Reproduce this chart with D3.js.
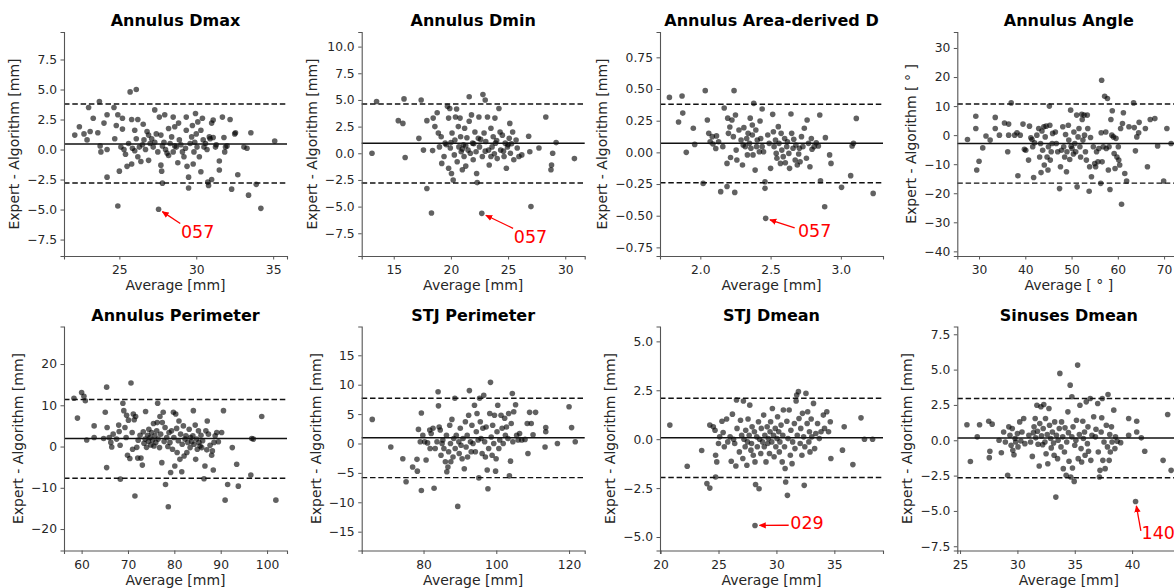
<!DOCTYPE html>
<html>
<head>
<meta charset="utf-8">
<script src="https://cdn.jsdelivr.net/npm/d3@7"></script>
<style>
  body { margin: 0; background: #fff; }
  svg { display: block; font-family: "DejaVu Sans", sans-serif; }
</style>
</head>
<body>
<div id="chart"></div>
<script>
////////////////////////////////////////////////////////
//////////////////// Data //////////////////////////////
////////////////////////////////////////////////////////

// [average, expert - algorithm] per case
const dmaxPoints = [[22.1,1.2],[22.4,1.9],[22.7,1.3],[22.9,0.8],[23.1,1.5],[23.0,3.5],[23.3,2.6],[23.7,4.0],[23.6,1.4],[23.75,0.3],[23.8,-0.2],[24.0,2.2],[24.2,2.9],[24.2,0.0],[24.2,-2.3],[24.65,3.5],[24.7,0.9],[24.8,2.0],[24.9,2.9],[25.0,-1.8],[24.9,-4.7],[25.1,0.2],[25.2,2.6],[25.2,1.7],[25.3,0.0],[25.4,-0.4],[25.5,-1.4],[25.7,4.8],[25.8,-1.2],[25.8,2.5],[25.85,0.1],[26.1,5.0],[26.0,1.6],[26.1,0.9],[26.2,2.5],[26.2,-0.6],[26.3,0.2],[26.4,-1.0],[26.55,2.1],[26.6,0.8],[26.7,0.0],[26.8,1.5],[26.9,-0.9],[27.0,0.5],[27.1,0.9],[27.2,0.2],[27.3,3.3],[27.4,1.3],[27.5,-0.2],[27.55,-4.97],[27.6,2.7],[27.7,1.2],[27.7,-1.3],[27.75,-1.8],[27.8,-2.8],[27.9,0.6],[27.95,2.9],[28.1,-0.3],[28.2,1.75],[28.3,0.5],[28.4,1.05],[28.5,2.7],[28.5,-0.2],[28.6,1.9],[28.7,0.2],[28.8,-1.1],[28.85,2.2],[28.9,0.8],[29.0,0.4],[29.1,-0.2],[29.2,-0.6],[29.35,2.7],[29.35,1.6],[29.4,-1.4],[29.5,-3.2],[29.5,-2.3],[29.6,0.5],[29.7,1.05],[29.75,2.0],[29.8,-1.2],[29.85,-0.2],[29.95,3.0],[30.0,1.3],[30.05,0.2],[30.1,2.3],[30.2,-0.6],[30.3,1.6],[30.3,-1.85],[30.4,2.6],[30.45,0.8],[30.5,0.2],[30.7,0.0],[30.75,-2.7],[30.8,-3.0],[30.85,1.05],[31.0,-2.5],[31.0,2.2],[31.1,1.0],[31.1,2.45],[31.25,0.2],[31.5,-0.95],[31.5,-1.7],[31.7,2.7],[31.8,1.0],[31.85,-0.2],[31.9,0.2],[32.2,2.5],[32.3,-3.3],[32.5,1.3],[32.55,1.4],[32.7,-2.1],[33.1,0.2],[33.3,0.1],[33.4,-3.8],[33.55,1.4],[33.9,-2.9],[34.2,-4.9],[35.1,0.7],[26.5,0.4],[27.3,0.6],[28.0,0.0],[28.6,0.3],[29.3,0.1],[30.6,0.5],[31.3,0.4],[26.9,1.2],[28.2,-0.5],[29.9,0.6],[27.8,0.3],[30.9,0.9],[25.6,0.5],[26.0,-0.1],[32.0,0.3]];

const dminPoints = [[13.1,0],[13.5,4.85],[15.4,3.06],[15.8,2.8],[15.9,5.1],[16.0,-0.4],[17.2,1.4],[17.4,5.0],[17.6,0.3],[17.9,-3.3],[17.9,3.06],[18.3,-5.6],[18.4,0.25],[18.45,3.3],[18.6,2.5],[18.8,3.8],[18.9,1.9],[19.0,0.6],[19.15,1.55],[19.2,-0.95],[19.4,-0.3],[19.5,0.95],[19.7,4.4],[19.8,3.3],[19.8,-1.4],[19.9,4.2],[19.95,0.5],[20.05,-1.9],[20.1,1.9],[20.2,-2.5],[20.3,-0.15],[20.35,1.25],[20.4,3.4],[20.5,4.15],[20.55,-0.8],[20.65,2.5],[20.7,0.6],[20.8,3.3],[20.85,1.55],[20.9,0.15],[21.0,-1.55],[21.1,0.8],[21.15,-0.3],[21.2,2.35],[21.3,-1.2],[21.4,1.45],[21.5,0.3],[21.6,5.3],[21.6,3.0],[21.7,0],[21.8,3.6],[21.9,0.95],[21.95,-0.6],[22.1,2.0],[22.2,0.15],[22.25,-1.9],[22.3,-2.75],[22.4,1.4],[22.45,3.4],[22.5,0.6],[22.7,-5.63],[22.75,-0.3],[22.8,5.5],[22.9,1.9],[23.0,5.0],[23.05,1.1],[23.2,3.4],[23.3,0.3],[23.35,-1.1],[23.5,2.35],[23.6,0.6],[23.7,1.55],[23.8,-0.05],[23.85,3.3],[23.9,0.95],[24.05,-0.5],[24.2,4.2],[24.3,2.0],[24.35,0.3],[24.5,1.7],[24.65,-0.3],[24.75,0.95],[24.85,-1.4],[24.95,0.6],[25.1,1.4],[25.15,2.8],[25.2,0],[25.4,2.0],[25.5,-0.6],[25.7,1.25],[25.8,0.5],[25.95,-0.3],[26.2,-0.15],[26.8,1.6],[26.9,0.15],[27.0,-5.0],[27.7,0.5],[28.3,3.4],[28.75,-1.55],[28.8,-1.1],[28.9,0],[29.2,1.0],[30.8,-0.5],[21.0,0.4],[22.0,0.9],[23.0,0.2],[24.0,1.2],[25.0,0.8],[20.0,1.0],[22.6,1.3],[21.3,0.7],[23.5,-0.3],[24.6,0.2],[25.3,0.9],[19.6,0.8]];

const areaDPoints = [[1.78,0.434],[1.845,0.24],[1.87,0.445],[1.875,0.31],[1.90,0.0],[1.95,0.19],[1.96,0.063],[2.02,-0.245],[2.035,0.487],[2.05,0.255],[2.06,0.15],[2.07,0.084],[2.085,0.124],[2.09,0.066],[2.11,0.03],[2.115,0.13],[2.13,0.084],[2.145,-0.31],[2.16,0.045],[2.17,0.35],[2.19,-0.27],[2.19,-0.087],[2.195,0.27],[2.2,0.15],[2.21,0.2],[2.215,-0.04],[2.225,0.255],[2.235,0.124],[2.24,0.487],[2.245,-0.316],[2.25,0.295],[2.255,0.018],[2.26,-0.06],[2.275,0.176],[2.29,0.097],[2.3,-0.1],[2.305,0.058],[2.31,0.195],[2.32,0.045],[2.33,0.11],[2.335,-0.02],[2.34,0.15],[2.35,0.071],[2.355,0.27],[2.36,0.032],[2.37,0.216],[2.37,0.137],[2.375,-0.02],[2.38,0.387],[2.39,-0.14],[2.395,0.176],[2.4,0.045],[2.405,0.097],[2.42,0.005],[2.425,0.247],[2.43,0.11],[2.44,0.342],[2.44,0.045],[2.45,0.005],[2.46,-0.232],[2.46,-0.284],[2.465,-0.521],[2.48,0.137],[2.49,0.071],[2.5,-0.126],[2.515,0.3],[2.52,0.163],[2.525,0.045],[2.535,0.097],[2.54,-0.008],[2.545,-0.047],[2.555,0.203],[2.56,0.071],[2.57,-0.087],[2.575,0.15],[2.58,0.018],[2.59,-0.034],[2.6,0.11],[2.605,-0.082],[2.615,0.045],[2.62,0.084],[2.63,-0.008],[2.635,-0.126],[2.645,0.303],[2.65,0.15],[2.66,0.032],[2.665,0.103],[2.675,-0.06],[2.68,0.058],[2.69,-0.1],[2.7,-0.013],[2.705,0.032],[2.71,-0.074],[2.72,0.124],[2.73,0.045],[2.74,0.19],[2.755,-0.047],[2.76,0.255],[2.77,0.071],[2.78,-0.113],[2.79,0.11],[2.795,0.024],[2.81,0.045],[2.825,0.076],[2.84,0.05],[2.85,0.295],[2.855,-0.224],[2.885,-0.429],[2.89,0.116],[2.92,-0.02],[2.93,-0.087],[3.005,-0.276],[3.07,-0.184],[3.08,0.05],[3.09,0.071],[3.11,0.268],[3.23,-0.324]];

const anglePoints = [[27.5,-1.5],[29.3,6.5],[29.3,2.3],[29.5,-12.0],[30.0,-9.0],[30.8,-4.4],[31.5,-0.3],[32.4,-1.7],[33.5,6.1],[33.5,2.3],[34.4,0],[35.5,4.2],[36.2,-5.7],[36.4,3.8],[36.4,0],[36.95,11.1],[37.7,0],[38.2,0.8],[38.4,-14.0],[38.9,0],[39.5,3.8],[39.8,-4.9],[40.1,-5.2],[40.7,-8.6],[40.9,3.1],[41.2,-0.9],[41.45,-1.5],[41.6,-4.0],[41.8,-14.6],[42.0,-2.6],[42.5,0],[42.9,2.3],[43.1,-7.5],[43.3,-2.9],[43.4,-12.9],[43.6,1.4],[43.75,-5.2],[44.0,2.9],[44.1,-10.3],[44.3,-0.6],[44.5,3.1],[44.7,-7.5],[44.9,-12.0],[45.0,-4.0],[45.2,10.0],[45.3,3.4],[45.4,-8.6],[45.6,-5.7],[45.8,-2.9],[45.9,0.6],[46.5,1.1],[46.7,-2.9],[47.0,-5.7],[47.4,-18.4],[47.6,-10.9],[47.8,-5.2],[48.1,2.9],[48.3,-4.0],[48.5,-7.5],[48.7,0.2],[48.9,-12.6],[49.0,-5.7],[49.3,3.4],[49.4,-1.7],[49.6,-8.4],[49.8,8.6],[49.9,-3.8],[50.1,-4.6],[50.4,-6.5],[50.5,1.1],[50.7,-2.9],[50.9,-5.7],[51.1,6.9],[51.2,-17.8],[51.4,-0.6],[51.6,2.3],[51.8,-4.0],[51.95,-7.5],[52.2,7.2],[52.3,5.4],[52.45,-1.7],[52.7,6.9],[52.8,0],[53.0,-5.7],[53.2,-8.6],[53.4,6.9],[53.5,2.3],[53.8,-19.3],[53.9,-10.9],[54.1,-0.8],[54.3,-14.3],[54.7,-4.0],[55.0,-9.8],[55.2,-10.9],[55.4,-5.7],[55.7,-9.2],[55.9,-4.6],[56.3,-16.6],[56.4,0.8],[56.5,18.9],[56.6,-9.2],[56.85,-4.0],[57.15,13.4],[57.4,1.1],[57.5,-4.6],[57.75,12.6],[57.95,-12.0],[58.1,-4.0],[58.3,-18.7],[58.5,5.4],[58.7,0],[58.8,8.4],[59.05,-0.6],[59.2,-6.3],[59.4,-11.5],[59.6,-1.1],[59.8,-7.5],[60.1,-4.0],[60.2,-8.6],[60.4,-10.3],[60.6,2.3],[60.8,-23.8],[61.0,4.0],[61.2,7.7],[61.5,-13.2],[61.9,-15.8],[62.4,2.9],[63.4,11.1],[63.55,2.6],[63.8,-5.4],[64.1,-0.6],[64.5,0.8],[64.6,4.4],[65.95,2.3],[66.4,-10.9],[67.0,5.4],[68.0,5.7],[68.6,-3.7],[69.9,-15.8],[70.6,2.3],[71.5,-2.9]];

const annPerimPoints = [[58.35,11.7],[59.1,6.9],[60.0,13.1],[60.5,12.2],[60.8,11.1],[61.1,1.6],[62.7,5.0],[62.7,2.2],[64.75,1.95],[65.1,8.3],[65.4,14.4],[65.4,-5.1],[65.5,4.6],[65.95,2.2],[66.3,1.0],[66.5,-0.1],[66.8,3.0],[67.55,1.8],[68.0,5.2],[68.1,3.65],[68.35,-7.9],[68.3,0.3],[68.9,10.5],[69.1,8.7],[69.35,4.6],[69.6,2.2],[69.7,7.6],[69.9,-2.1],[70.1,6.4],[70.4,-2.9],[70.65,15.4],[70.9,3.4],[71.0,-0.65],[71.15,7.9],[71.35,6.5],[71.5,-12.0],[71.65,7.3],[71.9,-0.2],[72.1,-2.8],[72.2,1.55],[72.6,2.75],[72.8,-2.8],[73.1,-4.5],[73.3,3.6],[73.45,0.8],[73.7,1.8],[73.8,8.5],[74.0,-0.2],[74.25,2.75],[74.4,1.2],[74.5,4.2],[74.75,2.2],[74.95,0.4],[75.1,3.4],[75.3,1.6],[75.5,5.6],[75.6,0.15],[75.8,2.6],[76.0,1.0],[76.2,3.8],[76.3,5.8],[76.4,10.5],[76.5,1.8],[76.8,-0.25],[76.9,7.3],[77.05,3.0],[77.3,-3.9],[77.4,5.8],[77.6,8.3],[77.8,1.2],[78.0,4.6],[78.1,-9.2],[78.35,2.2],[78.6,0],[78.7,-14.6],[78.85,3.4],[79.05,1.0],[79.2,-6.3],[79.4,3.8],[79.6,-0.65],[79.8,8.3],[79.9,2.2],[80.1,-4.7],[80.3,7.9],[80.5,4.4],[80.6,-1.45],[80.85,1.4],[81.0,6.2],[81.2,-3.1],[81.35,3.0],[81.6,-6.1],[81.7,0.55],[81.95,5.0],[82.1,-2.3],[82.3,1.8],[82.5,2.6],[82.7,-1.45],[82.9,1.0],[83.2,4.2],[83.4,-0.25],[83.5,2.2],[83.75,1.15],[84.0,2.6],[84.1,8.7],[84.25,0.55],[84.5,5.2],[84.6,-3.1],[84.8,1.8],[84.95,-0.65],[85.2,3.8],[85.3,1.0],[85.55,0.15],[85.75,2.75],[85.9,-0.25],[86.1,1.4],[86.4,-7.8],[86.6,-4.7],[86.8,3.8],[87.0,-0.8],[87.1,6.2],[87.35,3.0],[87.7,0.3],[88.05,-2.1],[88.2,-1.05],[88.4,-5.7],[88.55,1.0],[88.8,2.6],[89.15,3.4],[89.5,1.15],[90.2,3.4],[90.6,8.7],[90.95,-13.0],[91.5,-9.2],[92.5,-0.25],[93.45,-4.3],[93.8,-9.6],[96.5,-6.9],[96.7,1.95],[97.05,1.8],[98.85,7.3],[101.9,-13.0]];

const stjPerimPoints = [[65.9,4.1],[71.0,-0.6],[74.3,-2.6],[75.2,-6.5],[77.0,-4.0],[78.2,-2.7],[78.3,-4.7],[78.6,2.4],[79.1,0.3],[79.4,5.2],[79.4,-8.0],[79.8,1.4],[80.3,0.3],[80.7,-2.8],[81.1,0.1],[81.7,2.3],[81.8,-0.85],[82.1,1.7],[82.6,2.6],[82.9,-7.6],[83.2,-0.85],[83.7,0.3],[84.0,8.8],[84.1,6.4],[84.3,2.8],[84.6,2.3],[84.8,-2.0],[85.1,0],[85.3,0.6],[85.6,-0.85],[86.0,-3.1],[86.3,1.4],[86.4,-4.8],[86.7,-4.0],[86.9,-1.4],[87.2,3.1],[87.4,0],[87.5,-3.1],[87.8,4.1],[88.1,-2.3],[88.3,0.85],[88.6,7.7],[88.7,-0.85],[89.0,1.4],[89.4,-10.7],[89.7,0.3],[89.8,-1.7],[90.1,2.6],[90.3,-0.3],[90.6,-2.6],[90.85,0.85],[91.2,-4.3],[91.5,3.7],[91.7,-0.6],[92.0,1.4],[92.1,-2.3],[92.4,4.8],[92.6,9.0],[92.9,0.3],[93.1,-1.4],[93.3,3.1],[93.6,0],[94.0,6.5],[94.25,-1.4],[94.5,2.0],[94.7,5.1],[95.0,0.6],[95.2,-5.85],[95.4,7.7],[95.6,3.7],[95.8,0.85],[96.1,-1.7],[96.3,2.6],[96.55,8.2],[96.8,0.3],[97.0,-2.3],[97.2,2.8],[97.5,-4.5],[97.7,-7.7],[97.9,-0.85],[98.2,5.1],[98.4,10.4],[98.6,1.1],[98.85,-2.0],[99.0,3.1],[99.3,0],[99.5,4.8],[99.8,-4.7],[99.95,-2.6],[100.2,2.0],[100.4,6.5],[100.7,-0.85],[100.95,0.6],[101.3,4.8],[101.6,2.6],[101.9,0],[102.3,4.3],[102.5,1.4],[102.8,2.8],[103.2,0.85],[103.4,5.1],[103.6,-5.5],[103.9,-3.0],[104.1,3.4],[104.4,8.5],[104.55,0.3],[104.8,5.4],[105.3,6.6],[105.6,1.4],[106.0,0.6],[106.4,1.7],[107.0,0.6],[107.9,0.7],[108.5,3.4],[108.7,-1.7],[109.15,5.3],[109.6,3.4],[110.1,1.5],[110.8,5.3],[113.6,2.7],[113.6,2.0],[113.4,-0.6],[116.8,0],[120.0,6.25],[120.7,2.7],[121.7,0.3]];

const stjDmeanPoints = [[20.8,0.72],[22.3,-1.38],[23.55,-0.58],[24.0,-2.27],[24.25,-2.5],[24.25,0.72],[24.55,0.63],[24.7,0.46],[24.75,-0.82],[24.85,-1.16],[24.75,-1.93],[25.0,-0.22],[25.1,0.12],[25.3,0.92],[25.4,0.34],[25.5,-0.39],[25.7,1.03],[25.8,-0.14],[26.0,0.12],[26.1,-1.13],[26.2,1.28],[26.3,0],[26.4,-0.22],[26.5,-1.37],[26.55,2.0],[26.6,0.55],[26.8,-0.65],[26.9,0.97],[27.0,0.2],[27.1,-0.99],[27.15,1.95],[27.2,0],[27.3,-0.39],[27.35,0.46],[27.45,-1.33],[27.5,-0.14],[27.55,1.03],[27.65,0.2],[27.7,1.74],[27.8,-0.56],[27.85,-0.22],[27.9,0.63],[28.0,-0.82],[28.1,0.38],[28.15,-1.16],[28.2,-2.32],[28.15,-4.41],[28.3,0.12],[28.35,-0.39],[28.45,0.89],[28.5,-2.53],[28.55,0],[28.65,-0.73],[28.7,0.55],[28.8,-0.14],[28.9,1.23],[28.95,-0.39],[29.0,0.2],[29.1,-1.16],[29.2,0.63],[29.25,-0.22],[29.3,0.03],[29.4,-0.73],[29.45,0.38],[29.5,0.89],[29.6,-0.14],[29.65,1.57],[29.75,0.2],[29.8,-0.9],[29.9,0.55],[29.95,-0.39],[30.05,0.03],[30.1,1.15],[30.2,0.38],[30.25,-0.65],[30.3,-0.14],[30.4,0.72],[30.5,-1.16],[30.55,0.2],[30.6,1.49],[30.7,-0.39],[30.75,-1.5],[30.8,-2.19],[30.9,0.92],[30.95,-2.87],[31.0,0.03],[31.1,1.49],[31.2,-0.82],[31.25,0.46],[31.35,-1.25],[31.4,-0.14],[31.55,0.8],[31.6,-0.48],[31.7,1.95],[31.75,2.26],[31.8,0.2],[31.9,2.43],[31.95,1.06],[32.05,-0.22],[32.1,0.55],[32.2,-0.82],[32.25,1.32],[32.35,0.12],[32.4,-2.36],[32.45,-0.39],[32.55,2.34],[32.65,0.8],[32.7,1.4],[32.8,-0.14],[32.85,0.38],[32.9,-0.65],[33.0,1.03],[33.05,0.12],[33.2,1.83],[33.3,-0.48],[33.4,0.29],[33.55,0.8],[33.7,0.03],[33.85,0.38],[34.05,1.23],[34.15,0.55],[34.35,1.4],[34.5,0.38],[34.65,0.89],[34.7,-0.99],[35.7,-0.56],[35.85,0.63],[36.6,-1.3],[37.3,1.09],[37.6,0],[38.3,0]];

const sinusesPoints = [[25.6,1.1],[25.9,-1.5],[26.5,0.24],[26.7,1.1],[27.5,1.35],[27.55,-1.23],[27.6,-0.78],[27.8,1.14],[28.4,0],[28.6,-0.88],[28.8,0.59],[28.95,-0.12],[29.15,-2.48],[29.25,0.95],[29.35,0.35],[29.45,-0.35],[29.55,0.83],[29.6,-0.71],[29.7,-1.02],[29.8,0.12],[29.85,-0.12],[30.0,0.47],[30.05,-0.47],[30.2,1.3],[30.3,-0.05],[30.4,0.59],[30.55,1.54],[30.65,-0.24],[31.0,0.35],[31.15,-0.12],[31.3,-1.14],[31.4,0.54],[31.45,0.95],[31.55,1.54],[31.6,0.17],[31.7,2.48],[31.75,0.64],[31.8,-0.28],[31.9,-1.82],[31.95,1.18],[32.05,2.37],[32.1,0.31],[32.2,-0.31],[32.25,0.83],[32.3,2.53],[32.4,-0.12],[32.45,1.54],[32.5,-0.95],[32.6,0.4],[32.65,-1.66],[32.75,2.25],[32.8,1.06],[32.9,0.12],[32.95,-0.54],[33.05,0.59],[33.15,-0.19],[33.2,-1.06],[33.25,1.3],[33.35,-4.02],[33.4,0.35],[33.5,-1.3],[33.55,0],[33.65,0.83],[33.7,4.73],[33.8,-0.47],[33.85,1.3],[33.95,0.24],[34.0,-2.01],[34.1,-0.83],[34.15,0.88],[34.25,-2.48],[34.3,-0.12],[34.4,2.01],[34.45,0.54],[34.5,-1.49],[34.6,3.9],[34.65,-2.6],[34.75,0.24],[34.75,3.08],[34.8,-1.96],[34.85,0.95],[34.95,-2.91],[35.0,-0.35],[35.1,0],[35.15,1.42],[35.25,5.32],[35.3,-1.3],[35.4,0.4],[35.45,2.48],[35.55,-0.59],[35.6,-1.54],[35.7,1.35],[35.75,0.12],[35.85,0.59],[35.9,-1.06],[36.0,2.72],[36.1,-0.24],[36.15,0.95],[36.2,-0.78],[36.35,2.96],[36.4,-1.42],[36.5,0.35],[36.65,1.66],[36.8,0.24],[36.85,0.78],[37.0,2.6],[37.05,-0.83],[37.15,-2.6],[37.2,-2.13],[37.3,0.59],[37.35,1.59],[37.4,2.96],[37.45,-1.42],[37.55,-0.12],[37.65,-2.01],[37.75,1.06],[37.85,-0.47],[37.9,3.24],[38.0,-1.42],[38.05,0.4],[38.1,-0.83],[38.2,0.95],[38.25,-0.12],[38.4,2.13],[38.5,-0.59],[38.55,0.24],[38.7,-0.07],[39.0,-0.17],[39.7,1.54],[39.7,0.35],[40.3,-4.33],[40.4,1.35],[40.4,0.59],[40.8,0.17],[41.1,-0.78],[42.7,-1.42],[43.1,1.82],[43.4,-2.13]];

const titles = ["Annulus Dmax", "Annulus Dmin", "Annulus Area-derived D", "Annulus Angle",
                "Annulus Perimeter", "STJ Perimeter", "STJ Dmean", "Sinuses Dmean"];
const units = ["mm", "mm", "mm", " \u00b0 ", "mm", "mm", "mm", "mm"];

// bias and limits of agreement
const meanDiff = [0.46, 0.94, 0.071, -2.86, 1.95, 0.96, 0.07, 0.16];
const upperLoA = [3.79, 4.62, 0.38, 10.7, 11.4, 7.7, 2.09, 2.96];
const lowerLoA = [-2.79, -2.78, -0.24, -16.5, -7.7, -5.8, -1.96, -2.65];

const xDomains = [[21.4, 35.9], [12.2, 31.7], [1.713, 3.30], [25.3, 73.5],
                  [56.2, 104.3], [63.0, 124.3], [19.95, 39.2], [24.76, 44.2]];
const yDomains = [[-8.87, 9.79], [-9.63, 11.37], [-0.818, 0.95], [-41.6, 35.5],
                  [-25.2, 29.1], [-18.2, 19.9], [-5.69, 5.76], [-7.8, 8.05]];

const xTicks = [[25, 30, 35], [15, 20, 25, 30], [2.0, 2.5, 3.0], [30, 40, 50, 60, 70],
                [60, 70, 80, 90, 100], [80, 100, 120], [20, 25, 30, 35], [25, 30, 35, 40]];
const yTicks = [[-7.5, -5, -2.5, 0, 2.5, 5, 7.5], [-7.5, -5, -2.5, 0, 2.5, 5, 7.5, 10],
                [-0.75, -0.5, -0.25, 0, 0.25, 0.5, 0.75], [-40, -30, -20, -10, 0, 10, 20, 30],
                [-20, -10, 0, 10, 20], [-15, -10, -5, 0, 5, 10, 15], [-5, -2.5, 0, 2.5, 5],
                [-7.5, -5, -2.5, 0, 2.5, 5, 7.5]];
const xFormats = ["d", "d", ".1f", "d", "d", "d", "d", "d"];
const yFormats = [".1f", ".1f", ".2f", "d", "d", "d", ".1f", ".1f"];

// labelled outliers: panel, case, text offset and arrow start (px from the point)
const annotations = [
  { panel: 0, x: 27.55, y: -4.97, label: "057", tx: 22.4, ty: 29.3, ax: 21.7, ay: 14.3 },
  { panel: 1, x: 22.7,  y: -5.63, label: "057", tx: 32,   ty: 30,   ax: 31.3, ay: 15 },
  { panel: 2, x: 2.465, y: -0.521, label: "057", tx: 32.3, ty: 19,  ax: 29,   ay: 9.4 },
  { panel: 6, x: 28.15, y: -4.41, label: "029", tx: 35.3, ty: 3.3,  ax: 33.7, ay: -0.2 },
  { panel: 7, x: 40.3,  y: -4.33, label: "140", tx: 6,    ty: 37.3, ax: 5.3,  ay: 29.3 }
];

const allPoints = [dmaxPoints, dminPoints, areaDPoints, anglePoints,
                   annPerimPoints, stjPerimPoints, stjDmeanPoints, sinusesPoints];

////////////////////////////////////////////////////////
//////////////////// Setup /////////////////////////////
////////////////////////////////////////////////////////

const width = 1174, height = 588;
const colLeft = [64, 361.7, 660, 957.3];
const rowTop = [32, 326.5];
const plotW = 223, plotH = 224;

const textColor = "#262626";
const axisColor = "#555";

const panels = titles.map((t, i) => ({
  title: t,
  unit: units[i],
  points: allPoints[i],
  mean: meanDiff[i],
  upper: upperLoA[i],
  lower: lowerLoA[i],
  xDomain: xDomains[i],
  yDomain: yDomains[i],
  xTicks: xTicks[i],
  yTicks: yTicks[i],
  xFmt: xFormats[i],
  yFmt: yFormats[i]
}));

const svg = d3.select("#chart").append("svg")
  .attr("width", width)
  .attr("height", height)
  .attr("viewBox", [0, 0, width, height]);

svg.append("defs").append("marker")
  .attr("id", "arrow-red")
  .attr("viewBox", "0 0 10 10")
  .attr("refX", 9)
  .attr("refY", 5)
  .attr("markerWidth", 7)
  .attr("markerHeight", 7)
  .attr("markerUnits", "userSpaceOnUse")
  .attr("orient", "auto")
  .append("path")
  .attr("d", "M0,0.5 L10,5 L0,9.5 Z")
  .attr("fill", "#f00");

const scales = [];

/////////////////////////////////////////////////////////
//////////////////// Creating the figure ////////////////
/////////////////////////////////////////////////////////

panels.forEach((p, i) => {
  const left = colLeft[i % 4];
  const top = rowTop[Math.floor(i / 4)];
  const g = svg.append("g").attr("transform", `translate(${left},${top})`);

  const x = d3.scaleLinear().domain(p.xDomain).range([0, plotW]);
  const y = d3.scaleLinear().domain(p.yDomain).range([plotH, 0]);
  scales.push({ x, y, left, top });

  // points
  g.append("g")
    .selectAll("circle")
    .data(p.points)
    .join("circle")
    .attr("cx", d => x(d[0]))
    .attr("cy", d => y(d[1]))
    .attr("r", 2.8)
    .attr("fill", "#000")
    .attr("fill-opacity", 0.62);

  // bias and limits of agreement
  g.append("line")
    .attr("x1", 0).attr("x2", plotW)
    .attr("y1", y(p.mean)).attr("y2", y(p.mean))
    .attr("stroke", "#111").attr("stroke-width", 1.5);

  g.selectAll(".loa")
    .data([p.upper, p.lower])
    .join("line")
    .attr("class", "loa")
    .attr("x1", 0).attr("x2", plotW)
    .attr("y1", d => y(d)).attr("y2", d => y(d))
    .attr("stroke", "#111").attr("stroke-width", 1.4)
    .attr("stroke-dasharray", "5.5,2.8");

  // axes
  const xAxis = g.append("g")
    .attr("transform", `translate(0,${plotH})`)
    .call(d3.axisBottom(x).tickValues(p.xTicks).tickFormat(d3.format(p.xFmt))
      .tickSizeOuter(0).tickSize(3.5).tickPadding(6));

  const yAxis = g.append("g")
    .call(d3.axisLeft(y).tickValues(p.yTicks).tickFormat(d3.format(p.yFmt))
      .tickSizeOuter(0).tickSize(3.5).tickPadding(3.5));

  [xAxis, yAxis].forEach(a => {
    a.select(".domain").attr("stroke", axisColor).attr("stroke-width", 1.1);
    a.selectAll(".tick line").attr("stroke", axisColor).attr("stroke-width", 1);
    a.selectAll(".tick text")
      .attr("fill", textColor)
      .style("font-family", '"DejaVu Sans", sans-serif')
      .style("font-size", "12.3px");
  });

  let maxW = 0;
  yAxis.selectAll(".tick text").each(function() {
    maxW = Math.max(maxW, this.getComputedTextLength());
  });

  // labels
  g.append("text")
    .attr("x", plotW / 2)
    .attr("y", -6)
    .attr("text-anchor", "middle")
    .attr("font-weight", "bold")
    .attr("font-size", 16)
    .attr("fill", "#000")
    .text(p.title);

  g.append("text")
    .attr("x", plotW / 2)
    .attr("y", plotH + 34)
    .attr("text-anchor", "middle")
    .attr("font-size", 14)
    .attr("fill", textColor)
    .text(`Average [${p.unit}]`);

  g.append("text")
    .attr("transform", `translate(${-(maxW + 20)},${plotH / 2}) rotate(-90)`)
    .attr("text-anchor", "middle")
    .attr("dy", "0.35em")
    .attr("font-size", 14)
    .attr("fill", textColor)
    .text(`Expert - Algorithm [${p.unit}]`);
});

// outlier labels
annotations.forEach(a => {
  const s = scales[a.panel];
  const px = s.left + s.x(a.x);
  const py = s.top + s.y(a.y);
  const sx = px + a.ax, sy = py + a.ay;
  const len = Math.hypot(sx - px, sy - py);
  const shrink = 4.5;
  const ex = px + (sx - px) * shrink / len;
  const ey = py + (sy - py) * shrink / len;

  svg.append("line")
    .attr("x1", sx).attr("y1", sy)
    .attr("x2", ex).attr("y2", ey)
    .attr("stroke", "#f00")
    .attr("stroke-width", 1.3)
    .attr("marker-end", "url(#arrow-red)");

  svg.append("text")
    .attr("x", px + a.tx)
    .attr("y", py + a.ty)
    .attr("font-size", 17.5)
    .attr("fill", "#f00")
    .text(a.label);
});
</script>
</body>
</html>
